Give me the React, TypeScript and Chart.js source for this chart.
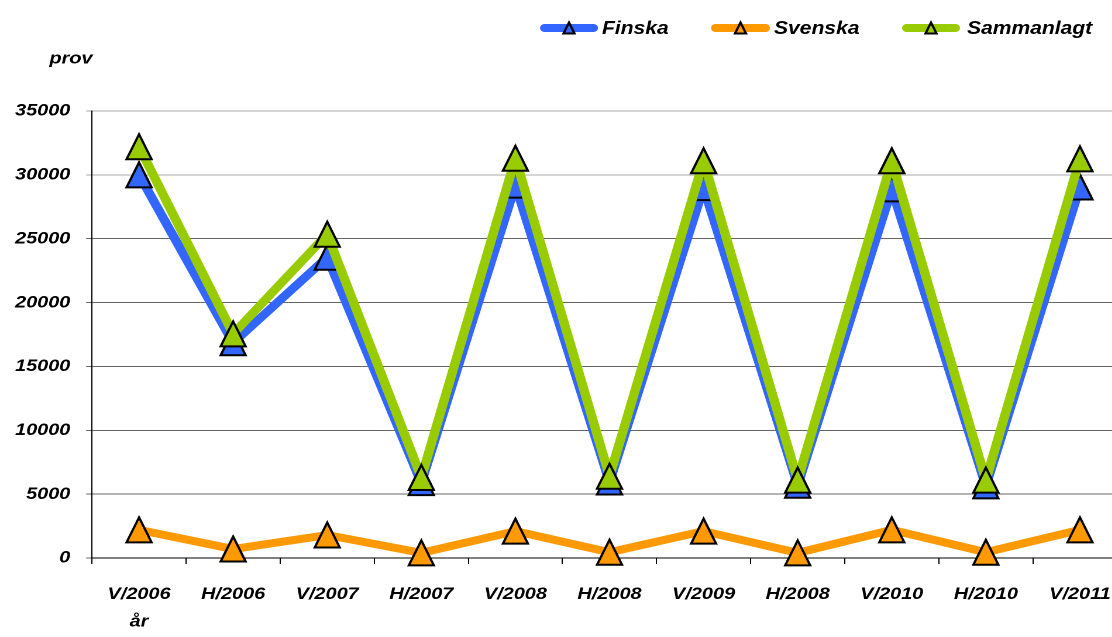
import React, { useEffect, useRef } from "react";
import { Chart, registerables } from "chart.js";

Chart.register(...registerables);

// horizontal stretch of the reference picture
const S = 1.17;
const CANVAS_W = 975;
const CANVAS_H = 637;

const categories = ["V/2006", "H/2006", "V/2007", "H/2007", "V/2008", "H/2008", "V/2009", "H/2008", "V/2010", "H/2010", "V/2011"];
const finska = [30000, 16850, 23550, 5900, 29200, 5950, 29000, 5700, 28900, 5650, 29050];
const svenska = [2200, 700, 1800, 400, 2100, 450, 2100, 400, 2200, 450, 2200];
const sammanlagt = [32200, 17550, 25350, 6300, 31300, 6400, 31100, 6100, 31100, 6100, 31250];
const seriesNames = ["Finska", "Svenska", "Sammanlagt"];
const seriesColors = ["#3366FF", "#FF9900", "#99CC00"];
const yMin = 0;
const yMax = 35000;
const yStep = 5000;
const yTitle = "prov";
const xTitle = "år";

const FAMILY = "'Liberation Sans', Arial, Helvetica, sans-serif";

function triangle(ctx: CanvasRenderingContext2D, x: number, y: number, w: number, h: number, fill: string, lw: number) {
  ctx.save();
  ctx.beginPath();
  ctx.moveTo(x, y - h / 2);
  ctx.lineTo(x + w / 2, y + h / 2);
  ctx.lineTo(x - w / 2, y + h / 2);
  ctx.closePath();
  ctx.fillStyle = fill;
  ctx.fill();
  ctx.lineWidth = lw;
  ctx.strokeStyle = "#000";
  ctx.lineJoin = "miter";
  ctx.stroke();
  ctx.restore();
}

const markerPlugin = {
  id: "markers",
  afterDatasetDraw(chart: any, args: any) {
    const meta = args.meta;
    const ds = chart.data.datasets[args.index];
    const ctx = chart.ctx;
    for (const el of meta.data) {
      triangle(ctx, el.x, el.y, 25 / S, 25, ds.borderColor, 2);
    }
  },
};

const decorPlugin = {
  id: "decor",
  afterDraw(chart: any) {
    const ctx: CanvasRenderingContext2D = chart.ctx;
    ctx.save();
    // legend
    const items = [
      { x1: 540, x2: 598, tx: 602 },
      { x1: 711, x2: 770, tx: 774 },
      { x1: 902, x2: 960, tx: 967 },
    ];
    const ly = 28;
    items.forEach((it, i) => {
      ctx.beginPath();
      ctx.lineCap = "round";
      ctx.lineWidth = 8;
      ctx.strokeStyle = seriesColors[i];
      ctx.moveTo(it.x1 / S + 4, ly);
      ctx.lineTo(it.x2 / S - 4, ly);
      ctx.stroke();
      const cx = (it.x1 + it.x2) / 2 / S;
      triangle(ctx, cx, ly, 11 / S, 11, seriesColors[i], 2);
      ctx.fillStyle = "#000";
      ctx.font = `italic bold 18px ${FAMILY}`;
      ctx.textAlign = "left";
      ctx.textBaseline = "middle";
      ctx.fillText(seriesNames[i], it.tx / S, ly + 1);
    });
    // axis titles
    ctx.font = `italic bold 17px ${FAMILY}`;
    ctx.fillStyle = "#000";
    ctx.textAlign = "center";
    ctx.textBaseline = "middle";
    ctx.fillText(yTitle, 71 / S, 59);
    const xs = chart.scales.x;
    ctx.fillText(xTitle, xs.getPixelForValue(0), 622);
    ctx.restore();
  },
};

export default function App() {
  const ref = useRef<HTMLCanvasElement>(null);
  useEffect(() => {
    const values = [finska, svenska, sammanlagt];
    const chart = new Chart(ref.current as HTMLCanvasElement, {
      type: "line",
      data: {
        labels: categories,
        datasets: values.map((v, i) => ({
          label: seriesNames[i],
          data: v,
          borderColor: seriesColors[i],
          backgroundColor: seriesColors[i],
          borderWidth: 8,
          pointRadius: 0,
          pointHoverRadius: 0,
          tension: 0,
          borderJoinStyle: "round" as const,
          order: 3 - i,
          fill: false,
        })),
      },
      options: {
        animation: false,
        responsive: false,
        devicePixelRatio: 2,
        events: [],
        layout: { padding: { top: 111, left: 0, bottom: 0, right: CANVAS_W - 1127 / S } },
        plugins: { legend: { display: false }, tooltip: { enabled: false }, title: { display: false } },
        scales: {
          x: {
            type: "category",
            offset: true,
            grid: { offset: true, drawOnChartArea: false, drawTicks: true, tickLength: 6, color: "#000" },
            border: { display: true, color: "#000", width: 1 },
            ticks: {
              autoSkip: false,
              maxRotation: 0,
              minRotation: 0,
              padding: 20,
              color: "#000",
              font: { family: FAMILY, size: 17, style: "italic", weight: "bold" },
            },
            afterFit: (scale: any) => {
              scale.height = CANVAS_H - 558;
            },
          },
          y: {
            min: yMin,
            max: yMax,
            ticks: {
              stepSize: yStep,
              padding: 13.5,
              color: "#000",
              font: { family: FAMILY, size: 17, style: "italic", weight: "bold" },
              callback: (v: any) => String(v),
            },
            grid: {
              drawTicks: true,
              tickLength: 5,
              color: (c: any) => (c.tick && c.tick.value >= 30000 ? "#a8a8a8" : "#666666"),
            },
            border: { display: true, color: "#000", width: 1 },
            afterFit: (scale: any) => {
              scale.width = 92 / S;
            },
          },
        },
      },
      plugins: [markerPlugin, decorPlugin],
    } as any);
    return () => chart.destroy();
  }, []);
  return (
    <div style={{ position: "absolute", left: 0, top: 0, width: 1112, height: 637, overflow: "hidden", background: "#fff" }}>
      <canvas
        ref={ref}
        width={CANVAS_W}
        height={CANVAS_H}
        style={{ display: "block", width: CANVAS_W, height: CANVAS_H, transform: `scaleX(${S})`, transformOrigin: "0 0" }}
      />
    </div>
  );
}
